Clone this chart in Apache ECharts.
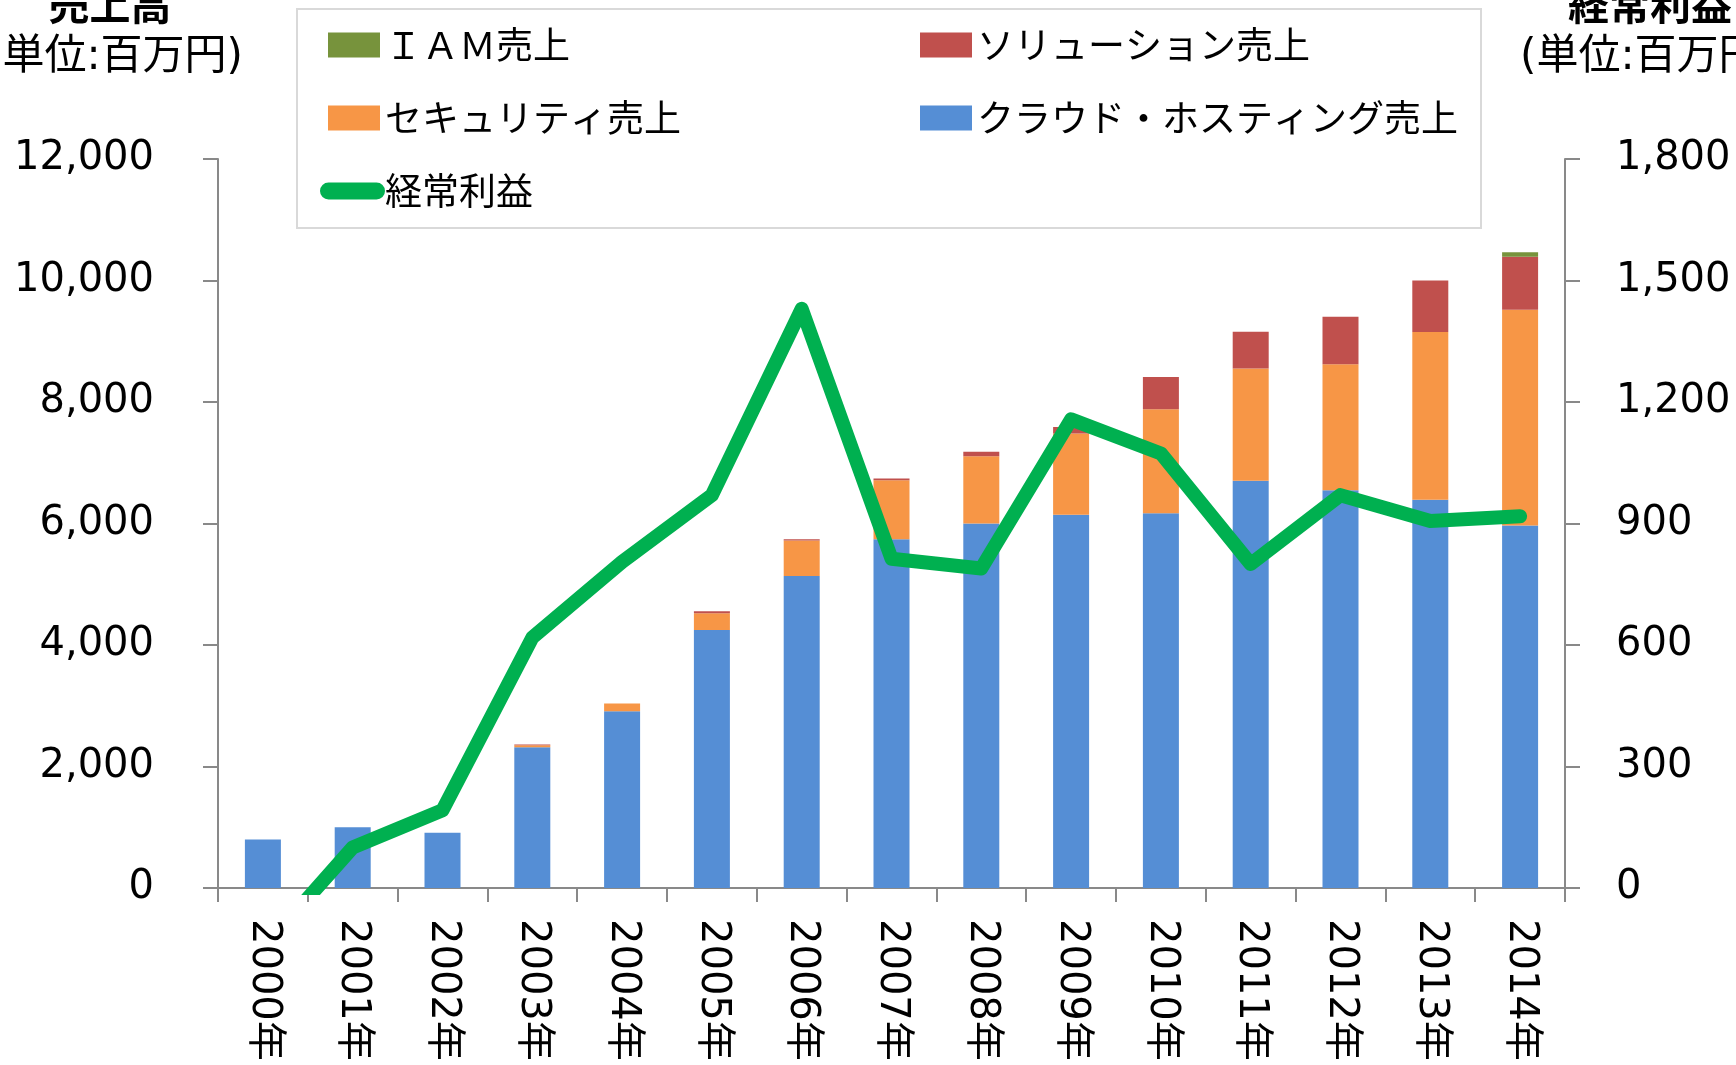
<!DOCTYPE html>
<html>
<head>
<meta charset="utf-8">
<title>売上高・経常利益</title>
<script src="https://cdn.jsdelivr.net/npm/echarts@6/dist/echarts.min.js"></script>
<style>
  html, body { margin: 0; padding: 0; background: #fff; }
  #chart { width: 1736px; height: 1065px; }
</style>
</head>
<body>
<div id="chart"></div>
<script>
// 年度
const years = ['2000年', '2001年', '2002年', '2003年', '2004年', '2005年', '2006年', '2007年',
  '2008年', '2009年', '2010年', '2011年', '2012年', '2013年', '2014年'];

// 売上（百万円）
const cloudSales = [800, 1000, 910, 2316, 2910, 4247, 5134, 5740, 6000, 6143, 6170, 6703, 6547, 6390, 5967];
const securitySales = [0, 0, 0, 33, 125, 275, 586, 970, 1105, 1340, 1710, 1850, 2075, 2761, 3550];
const solutionSales = [0, 0, 0, 15, 0, 33, 20, 30, 75, 105, 530, 605, 780, 850, 875];
const iamSales = [0, 0, 0, 0, 0, 0, 0, 0, 0, 0, 0, 0, 0, 0, 73];

// 経常利益（百万円）
const ordinaryProfit = [-150, 100, 192, 618, 805, 970, 1430, 813, 789, 1157, 1073, 800, 970, 906, 918];

const numFont = "'DejaVu Sans', 'Noto Sans CJK JP', sans-serif";
const jpFont = "'Noto Sans CJK JP', sans-serif";
const axisGray = '#898989';

// 凡例の文字はアイコンより少し上に
const legendText = { fontSize: 37, color: '#000', fontFamily: jpFont, lineHeight: 40, padding: [0, 0, 22, 0] };

let chart = echarts.init(document.getElementById('chart'));

let option = {
  animation: false,
  backgroundColor: '#fff',
  grid: { left: 218, right: 171, top: 159, bottom: 177 },
  graphic: [
    {
      type: 'rect', z: -1,
      shape: { x: 297, y: 9, width: 1184, height: 219 },
      style: { fill: '#fff', stroke: '#d9d9d9', lineWidth: 2 }
    },
    {
      type: 'text', x: 110, y: 4,
      style: { text: '売上高', fontSize: 41, fontWeight: 'bold', fontFamily: jpFont,
        fill: '#000', align: 'center', verticalAlign: 'middle' }
    },
    {
      type: 'text', x: 243, y: 58,
      style: { text: '(単位:百万円)', fontSize: 42, fontFamily: numFont,
        fill: '#000', align: 'right', verticalAlign: 'middle' }
    },
    {
      type: 'text', x: 1568, y: 4,
      style: { text: '経常利益', fontSize: 41, fontWeight: 'bold', fontFamily: jpFont,
        fill: '#000', align: 'left', verticalAlign: 'middle' }
    },
    {
      type: 'text', x: 1520, y: 58,
      style: { text: '(単位:百万円)', fontSize: 42, fontFamily: numFont,
        fill: '#000', align: 'left', verticalAlign: 'middle' }
    }
  ],
  legend: [
    {
      data: ['ＩＡＭ売上', 'セキュリティ売上'],
      orient: 'vertical', left: 323, top: 9,
      itemWidth: 52, itemHeight: 25, itemGap: 11,
      icon: 'rect', textStyle: legendText, selectedMode: false
    },
    {
      data: ['ソリューション売上', 'クラウド・ホスティング売上'],
      orient: 'vertical', left: 915, top: 9,
      itemWidth: 52, itemHeight: 25, itemGap: 11,
      icon: 'rect', textStyle: legendText, selectedMode: false
    },
    {
      data: [{ name: '経常利益', icon: 'path://M8.5,0 H56.5 A8.5,8.5 0 0 1 56.5,17 H8.5 A8.5,8.5 0 0 1 8.5,0 Z' }],
      left: 315, top: 155,
      itemWidth: 65, itemHeight: 17, itemGap: 0,
      textStyle: Object.assign({}, legendText, { padding: [0, 0, 22, -5] }),
      selectedMode: false
    }
  ],
  xAxis: {
    type: 'category',
    data: years,
    boundaryGap: true,
    axisLine: { lineStyle: { color: axisGray, width: 2 } },
    axisTick: { show: true, alignWithLabel: false, length: 14, lineStyle: { color: axisGray, width: 2 } },
    axisLabel: { rotate: -90, margin: 31, fontSize: 40, color: '#000', fontFamily: numFont, interval: 0 }
  },
  yAxis: [
    {
      type: 'value', min: 0, max: 12000, interval: 2000,
      splitLine: { show: false },
      axisLine: { show: true, lineStyle: { color: axisGray, width: 2 } },
      axisTick: { show: true, length: 15, lineStyle: { color: axisGray, width: 2 } },
      axisLabel: { margin: 64, fontSize: 40, color: '#000', fontFamily: numFont, padding: [0, 0, 16, 0] }
    },
    {
      type: 'value', min: 0, max: 1800, interval: 300, position: 'right',
      splitLine: { show: false },
      axisLine: { show: true, lineStyle: { color: axisGray, width: 2 } },
      axisTick: { show: true, length: 15, lineStyle: { color: axisGray, width: 2 } },
      axisLabel: { margin: 51, fontSize: 40, color: '#000', fontFamily: numFont, padding: [0, 0, 16, 0] }
    }
  ],
  series: [
    {
      name: 'クラウド・ホスティング売上', type: 'bar', stack: 'sales',
      barWidth: 36, data: cloudSales,
      itemStyle: { color: '#558ED5' }
    },
    {
      name: 'セキュリティ売上', type: 'bar', stack: 'sales',
      barWidth: 36, data: securitySales,
      itemStyle: { color: '#F79646' }
    },
    {
      name: 'ソリューション売上', type: 'bar', stack: 'sales',
      barWidth: 36, data: solutionSales,
      itemStyle: { color: '#C0504D' }
    },
    {
      name: 'ＩＡＭ売上', type: 'bar', stack: 'sales',
      barWidth: 36, data: iamSales,
      itemStyle: { color: '#77933C' }
    },
    {
      name: '経常利益', type: 'line', yAxisIndex: 1,
      data: ordinaryProfit,
      showSymbol: false, clip: true,
      itemStyle: { color: '#00B050' },
      lineStyle: { color: '#00B050', width: 14, cap: 'round', join: 'round' },
      z: 5
    }
  ]
};

chart.setOption(option);
window.addEventListener('resize', function () {
  chart.resize();
});
</script>
</body>
</html>
